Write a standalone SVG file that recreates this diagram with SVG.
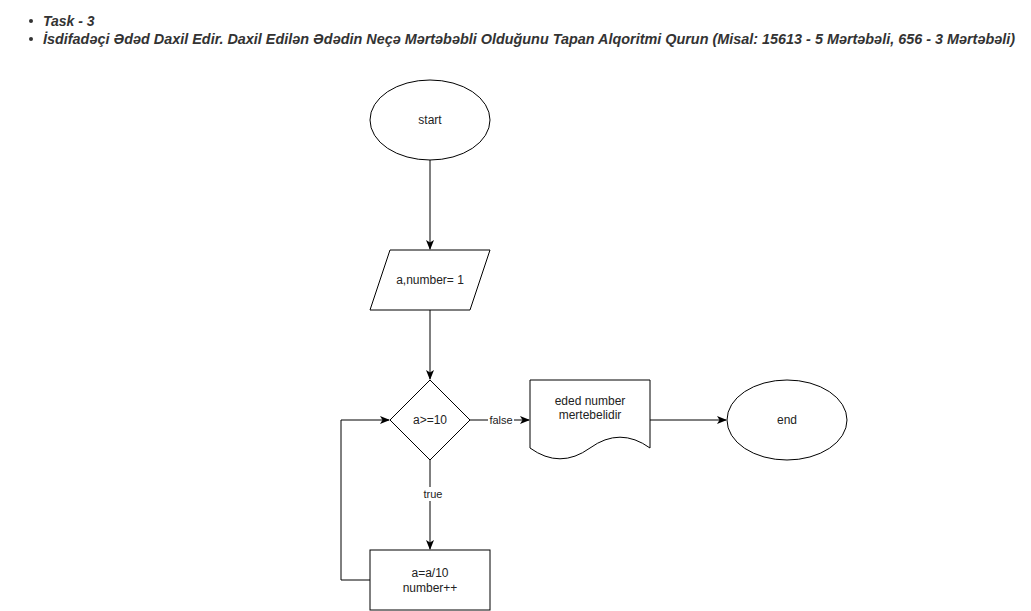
<svg xmlns="http://www.w3.org/2000/svg" width="1031" height="611" viewBox="0 0 1031 611">
<defs>
<marker id="arr" viewBox="0 0 10 10" refX="9" refY="5" markerWidth="10" markerHeight="10" markerUnits="userSpaceOnUse" orient="auto">
<path d="M0,1 L10,5 L0,9 L2.5,5 Z" fill="#000"/>
</marker>
<style>
.n{fill:#fff;stroke:#000;stroke-width:1}
.e{fill:none;stroke:#000;stroke-width:1}
.t{font-family:"Liberation Sans",Arial,sans-serif;font-size:12px;fill:#222;text-anchor:middle;dominant-baseline:central}
.h{font-family:"Liberation Sans",Arial,sans-serif;font-size:14px;font-weight:bold;font-style:italic;fill:#333}
.lb{fill:#fff}
</style>
</defs>
<rect width="1031" height="611" fill="#fff"/>
<g id="header">
<circle cx="31" cy="21" r="2" fill="#333"/>
<circle cx="31" cy="39" r="2" fill="#333"/>
<text class="h" x="43" y="26">Task - 3</text>
<text class="h" x="43" y="44" textLength="972" lengthAdjust="spacingAndGlyphs">İsdifadəçi Ədəd Daxil Edir. Daxil Edilən Ədədin Neçə Mərtəbəbli Olduğunu Tapan Alqoritmi Qurun (Misal: 15613 - 5 Mərtəbəli, 656 - 3 Mərtəbəli)</text>
</g>
<g id="connectors">
<path class="e" d="M430,160 L430,249" marker-end="url(#arr)"/>
<path class="e" d="M430,310 L430,379" marker-end="url(#arr)"/>
<path class="e" d="M470,420 L529,420" marker-end="url(#arr)"/>
<rect class="lb" x="488" y="413" width="26" height="14"/>
<text class="t" x="501" y="420" style="font-size:11px">false</text>
<path class="e" d="M650,420 L726,420" marker-end="url(#arr)"/>
<path class="e" d="M430,460 L430,549" marker-end="url(#arr)"/>
<rect class="lb" x="421" y="487" width="24" height="14"/>
<text class="t" x="433" y="494" style="font-size:11px">true</text>
<path class="e" d="M370,580 L341,580 L341,420 L389,420" marker-end="url(#arr)"/>
</g>
<g id="start">
<ellipse class="n" cx="430" cy="120" rx="60" ry="40"/>
<text class="t" x="430" y="120">start</text>
</g>
<g id="input">
<polygon class="n" points="390,250 490,250 470,310 370,310"/>
<text class="t" x="430" y="280">a,number= 1</text>
</g>
<g id="decision">
<polygon class="n" points="430,380 470,420 430,460 390,420"/>
<text class="t" x="430" y="420">a&gt;=10</text>
</g>
<g id="output">
<path class="n" d="M530,380 L650,380 L650,448 Q620,426.4 590,448 Q560,469.6 530,448 Z"/>
<text class="t" x="590" y="401">eded number</text>
<text class="t" x="590" y="415">mertebelidir</text>
</g>
<g id="end">
<ellipse class="n" cx="787" cy="420" rx="60" ry="40"/>
<text class="t" x="787" y="420">end</text>
</g>
<g id="process">
<rect class="n" x="370" y="550" width="120" height="60"/>
<text class="t" x="430" y="573">a=a/10</text>
<text class="t" x="430" y="588">number++</text>
</g>
</svg>
